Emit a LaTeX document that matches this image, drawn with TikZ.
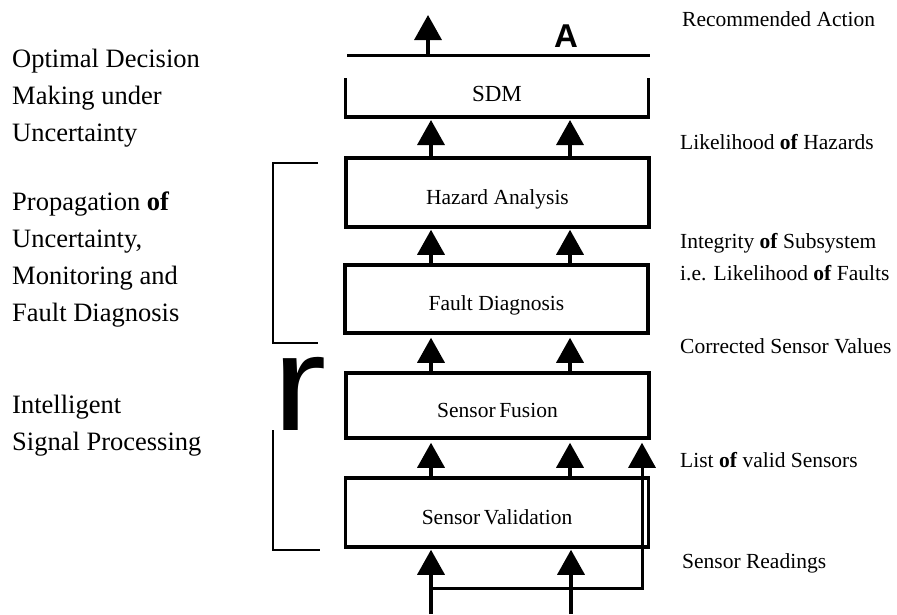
\documentclass[tikz,border=0pt]{standalone}
\usepackage{fontspec}
\setmainfont{Liberation Serif}
\newfontfamily\sansfont{Liberation Sans}
\usetikzlibrary{arrows.meta,positioning}

\begin{document}
\begin{tikzpicture}[
    x=1pt, y=-1pt,
    layer/.style={rectangle, draw, line width=3.5pt, minimum width=303pt, inner sep=0pt, text height=23pt, text depth=0pt, font=\fontsize{21.5}{26}\selectfont},
    arrow/.style={-{Triangle[width=27pt,length=25pt]}, line width=3.5pt},
    bracket/.style={line width=2.6pt},
    level/.style={anchor=base west, align=left, inner sep=0pt, font=\fontsize{26.5}{37}\selectfont},
    signal/.style={anchor=base west, align=left, inner sep=0pt, font=\fontsize{21.5}{32}\selectfont}
]
\useasboundingbox (0,0) rectangle (897,614);

% Boxes (centre column)
\node[layer, draw=none, outer sep=0pt, minimum height=39pt, text height=7pt, font=\fontsize{23}{26}\selectfont] (sdm) at (497,97.5) {SDM};
\draw[line width=3.5pt] (sdm.north west) -- (sdm.south west) -- (sdm.south east) -- (sdm.north east);
\node[layer, minimum height=69pt] (hazard) at (497.5,192.5) {Hazard Analysis};
\node[layer, minimum height=68pt] (fault) at (496.5,299) {Fault Diagnosis};
\node[layer, minimum height=65pt] (fusion) at (497.5,405.5) {Sensor\,Fusion};
\node[layer, minimum height=69pt] (valid) at (497,512.5) {Sensor\,Validation};

% Columns of the arrows
\coordinate (xl) at (431,0);
\coordinate (xr) at (570,0);
\coordinate (xs) at (642,0);

% Output on top
\coordinate (bar) at (428,55);
\coordinate (act) at (428,15);
\draw[line width=3pt] (347,55) -- (650,55);
\draw[arrow] (bar) -- (act);
\node[anchor=base, inner sep=0pt, font=\sansfont\bfseries\fontsize{33}{33}\selectfont] (amark) at (566,47) {A};

% Arrows between the layers
\draw[arrow, shorten >=3pt] (hazard.north -| xl) -- (sdm.south -| xl);
\draw[arrow, shorten >=3pt] (hazard.north -| xr) -- (sdm.south -| xr);
\draw[arrow, shorten >=1pt] (fault.north -| xl) -- (hazard.south -| xl);
\draw[arrow, shorten >=1pt] (fault.north -| xr) -- (hazard.south -| xr);
\draw[arrow, shorten >=3pt] (fusion.north -| xl) -- (fault.south -| xl);
\draw[arrow, shorten >=3pt] (fusion.north -| xr) -- (fault.south -| xr);
\draw[arrow, shorten >=3pt] (valid.north -| xl) -- (fusion.south -| xl);
\draw[arrow, shorten >=3pt] (valid.north -| xr) -- (fusion.south -| xr);

% Sensor readings in, with bypass
\coordinate (inl) at (431,614);
\coordinate (inr) at (571,614);
\coordinate (tap) at (431,588);
\draw[arrow, shorten >=1pt] (inl) -- (valid.south -| inl);
\draw[arrow, shorten >=1pt] (inr) -- (valid.south -| inr);
\draw[arrow, line width=3pt, shorten >=3pt] (tap) -| (fusion.south -| xs);

% Brackets on the left
\draw[bracket] (318,163) -- (273,163) -- (273,343) -- (318,343);
\draw[bracket] (273,430) -- (273,550) -- (320,550);
\node[anchor=base west, inner sep=0pt, xscale=1.2, font=\sansfont\fontsize{136}{136}\selectfont] (rmark) at (272,430) {r};

% Level names (left)
\node[level] (decide) at (12,141) {Optimal Decision\\Making under\\Uncertainty};
\node[level] (propag) at (12,321) {Propagation \textbf{of}\\Uncertainty,\\Monitoring and\\Fault Diagnosis};
\node[level] (signalp) at (12,450) {Intelligent\\Signal Processing};

% Signals (right)
\node[signal] (s1) at (682,26) {Recommended Action};
\node[signal] (s2) at (680,149) {Likelihood \textbf{of} Hazards};
\node[signal] (s3) at (680,280) {Integrity \textbf{of} Subsystem\\i.e. Likelihood \textbf{of} Faults};
\node[signal] (s4) at (680,353) {Corrected Sensor Values};
\node[signal] (s5) at (680,467) {List \textbf{of} valid Sensors};
\node[signal] (s6) at (682,568) {Sensor Readings};

\end{tikzpicture}
\end{document}
